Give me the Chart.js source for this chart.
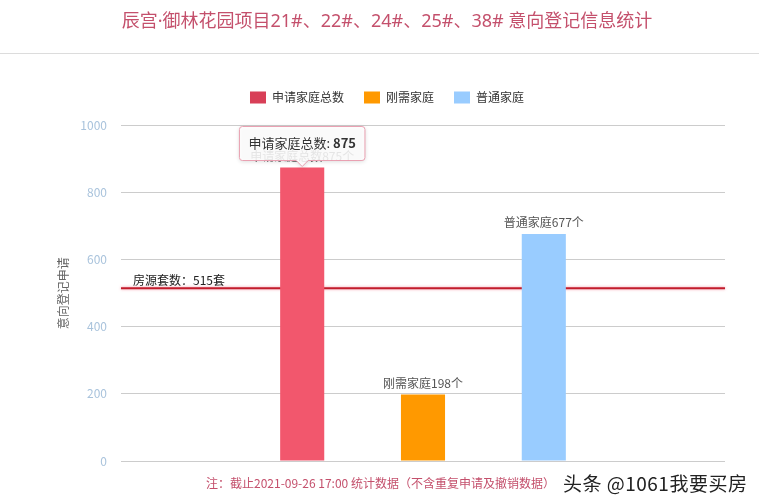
<!DOCTYPE html>
<html>
<head>
<meta charset="utf-8">
<script src="https://cdn.jsdelivr.net/npm/chart.js@4/dist/chart.umd.min.js"></script>
<style>
  html, body { margin: 0; padding: 0; background: #fff; }
  #wrap { position: relative; width: 759px; height: 502px; overflow: hidden; }
  #chart { position: absolute; left: 0; top: 0; }
  .rule { position: absolute; left: 0; top: 53px; width: 759px; height: 1px; background: #dcdcdc; }
  .note { position: absolute; left: 206px; top: 474px; font: 12px "Noto Sans CJK SC", sans-serif; color: #c4506c; white-space: nowrap; }
  .mark { position: absolute; left: 563px; top: 469px; font: 19px "Noto Sans CJK SC", sans-serif; color: #222; white-space: nowrap;
          letter-spacing: 0.5px; text-shadow: 0 0 2px #fff, 0 0 2px #fff; }
</style>
</head>
<body>
<div id="wrap">
  <canvas id="chart" width="759" height="502"></canvas>
  <div class="rule"></div>
  <div class="note">注：截止2021-09-26 17:00 统计数据（不含重复申请及撤销数据）</div>
  <div class="mark">头条 @1061我要买房</div>
</div>
<script>
// Registration data: one group of three bars plus the housing-supply reference line
const categories = ['意向登记'];
const seriesNames = ['申请家庭总数', '刚需家庭', '普通家庭'];
const seriesValues = [875, 198, 677];
const yTicks = [0, 200, 400, 600, 800, 1000];
const housingSupply = [515];

const FONT = '"Noto Sans CJK SC", "Noto Sans", sans-serif';
const TITLE_FONT = '"Noto Sans", "Noto Sans CJK SC", sans-serif';
const barColors = ['#d83f57', '#ff9900', '#99ccff'];
const barHoverColors = ['#f2576d', '#ff9900', '#99ccff'];

// Reference line for the number of available units, drawn behind the bars
const supplyLine = {
  id: 'supplyLine',
  beforeDatasetsDraw(chart) {
    const {ctx, chartArea, scales} = chart;
    const y = scales.y.getPixelForValue(housingSupply[0]);
    ctx.save();
    ctx.strokeStyle = '#c21c2c';
    ctx.lineWidth = 2;
    ctx.shadowColor = 'rgba(240,120,140,0.8)';
    ctx.shadowBlur = 3;
    ctx.beginPath();
    ctx.moveTo(chartArea.left, y);
    ctx.lineTo(chartArea.right, y);
    ctx.stroke();
    ctx.shadowBlur = 0;
    ctx.fillStyle = '#222';
    ctx.font = '12px ' + FONT;
    ctx.textAlign = 'left';
    ctx.textBaseline = 'bottom';
    ctx.fillText('房源套数：' + housingSupply[0] + '套', chartArea.left + 12, y - 2);
    ctx.restore();
  }
};

// Value captions above each bar
const barCaptions = {
  id: 'barCaptions',
  afterDatasetsDraw(chart) {
    const {ctx} = chart;
    ctx.save();
    ctx.font = '12px ' + FONT;
    ctx.fillStyle = '#555';
    ctx.textAlign = 'center';
    ctx.textBaseline = 'bottom';
    chart.data.datasets.forEach((ds, i) => {
      const bar = chart.getDatasetMeta(i).data[0];
      ctx.fillText(ds.label + ds.data[0] + '个', bar.x, bar.y - 5);
    });
    ctx.restore();
  }
};

// Hover card for the highlighted bar
const hoverCard = {
  id: 'hoverCard',
  afterDraw(chart) {
    const active = chart.getActiveElements();
    if (!active.length) return;
    const {datasetIndex, index} = active[0];
    const ds = chart.data.datasets[datasetIndex];
    const bar = chart.getDatasetMeta(datasetIndex).data[index];
    const {ctx} = chart;
    const lead = ds.label + ': ';
    const val = String(ds.data[index]);
    ctx.save();
    ctx.font = '13px ' + FONT;
    const w1 = ctx.measureText(lead).width;
    ctx.font = 'bold 13px ' + FONT;
    const w2 = ctx.measureText(val).width;
    const padX = 9, h = 34, caret = 6, r = 3;
    const w = w1 + w2 + padX * 2;
    const tipX = bar.x, tipY = bar.y - 1;
    const bottom = tipY - caret, top = bottom - h;
    const left = tipX - w / 2, right = tipX + w / 2;
    ctx.beginPath();
    ctx.moveTo(left + r, top);
    ctx.lineTo(right - r, top);
    ctx.quadraticCurveTo(right, top, right, top + r);
    ctx.lineTo(right, bottom - r);
    ctx.quadraticCurveTo(right, bottom, right - r, bottom);
    ctx.lineTo(tipX + caret, bottom);
    ctx.lineTo(tipX, tipY);
    ctx.lineTo(tipX - caret, bottom);
    ctx.lineTo(left + r, bottom);
    ctx.quadraticCurveTo(left, bottom, left, bottom - r);
    ctx.lineTo(left, top + r);
    ctx.quadraticCurveTo(left, top, left + r, top);
    ctx.closePath();
    ctx.shadowColor = 'rgba(0,0,0,0.18)';
    ctx.shadowBlur = 4;
    ctx.shadowOffsetY = 1;
    ctx.fillStyle = 'rgba(255,255,255,0.86)';
    ctx.fill();
    ctx.shadowColor = 'transparent';
    ctx.strokeStyle = '#e9a0b1';
    ctx.lineWidth = 1;
    ctx.stroke();
    ctx.textBaseline = 'middle';
    ctx.textAlign = 'left';
    ctx.fillStyle = '#333';
    ctx.font = '13px ' + FONT;
    ctx.fillText(lead, left + padX, top + h / 2);
    ctx.font = 'bold 13px ' + FONT;
    ctx.fillText(val, left + padX + w1, top + h / 2);
    ctx.restore();
  }
};

const chart = new Chart(document.getElementById('chart'), {
  type: 'bar',
  data: {
    labels: categories,
    datasets: seriesNames.map((name, i) => ({
      label: name,
      data: [seriesValues[i]],
      backgroundColor: barColors[i],
      hoverBackgroundColor: barHoverColors[i],
      borderWidth: 0,
      categoryPercentage: 0.6,
      barPercentage: 0.365
    }))
  },
  options: {
    responsive: false,
    animation: false,
    events: [],
    layout: { padding: { top: 0, left: 49, right: 34, bottom: 41 } },
    scales: {
      x: { display: false },
      y: {
        min: 0,
        max: 1000,
        afterBuildTicks(scale) { scale.ticks = yTicks.map(v => ({ value: v })); },
        afterFit(scale) { scale.width = 72; },
        border: { display: false },
        grid: { color: '#cccccc', lineWidth: 1, drawTicks: false },
        ticks: {
          padding: 14,
          color: '#a9c3dc',
          font: { family: FONT, size: 12 },
          callback: v => String(v)
        },
        title: {
          display: true,
          text: '意向登记申请',
          color: '#666',
          font: { family: FONT, size: 12 },
          padding: { top: 7, bottom: 0 }
        }
      }
    },
    plugins: {
      title: {
        display: true,
        text: '辰宫·御林花园项目21#、22#、24#、25#、38# 意向登记信息统计',
        color: '#c4506c',
        font: { family: TITLE_FONT, size: 18, weight: 'normal' },
        padding: { top: 11, bottom: 39 }
      },
      subtitle: {
        display: true,
        text: '',
        weight: 500,
        font: { size: 10, lineHeight: 1.2 },
        padding: 0
      },
      legend: {
        display: true,
        labels: {
          boxWidth: 16,
          boxHeight: 12,
          padding: 20,
          color: '#333',
          font: { family: FONT, size: 12 }
        }
      },
      tooltip: { enabled: false }
    }
  },
  plugins: [supplyLine, barCaptions, hoverCard]
});

chart.setActiveElements([{ datasetIndex: 0, index: 0 }]);
chart.update();
</script>
</body>
</html>
